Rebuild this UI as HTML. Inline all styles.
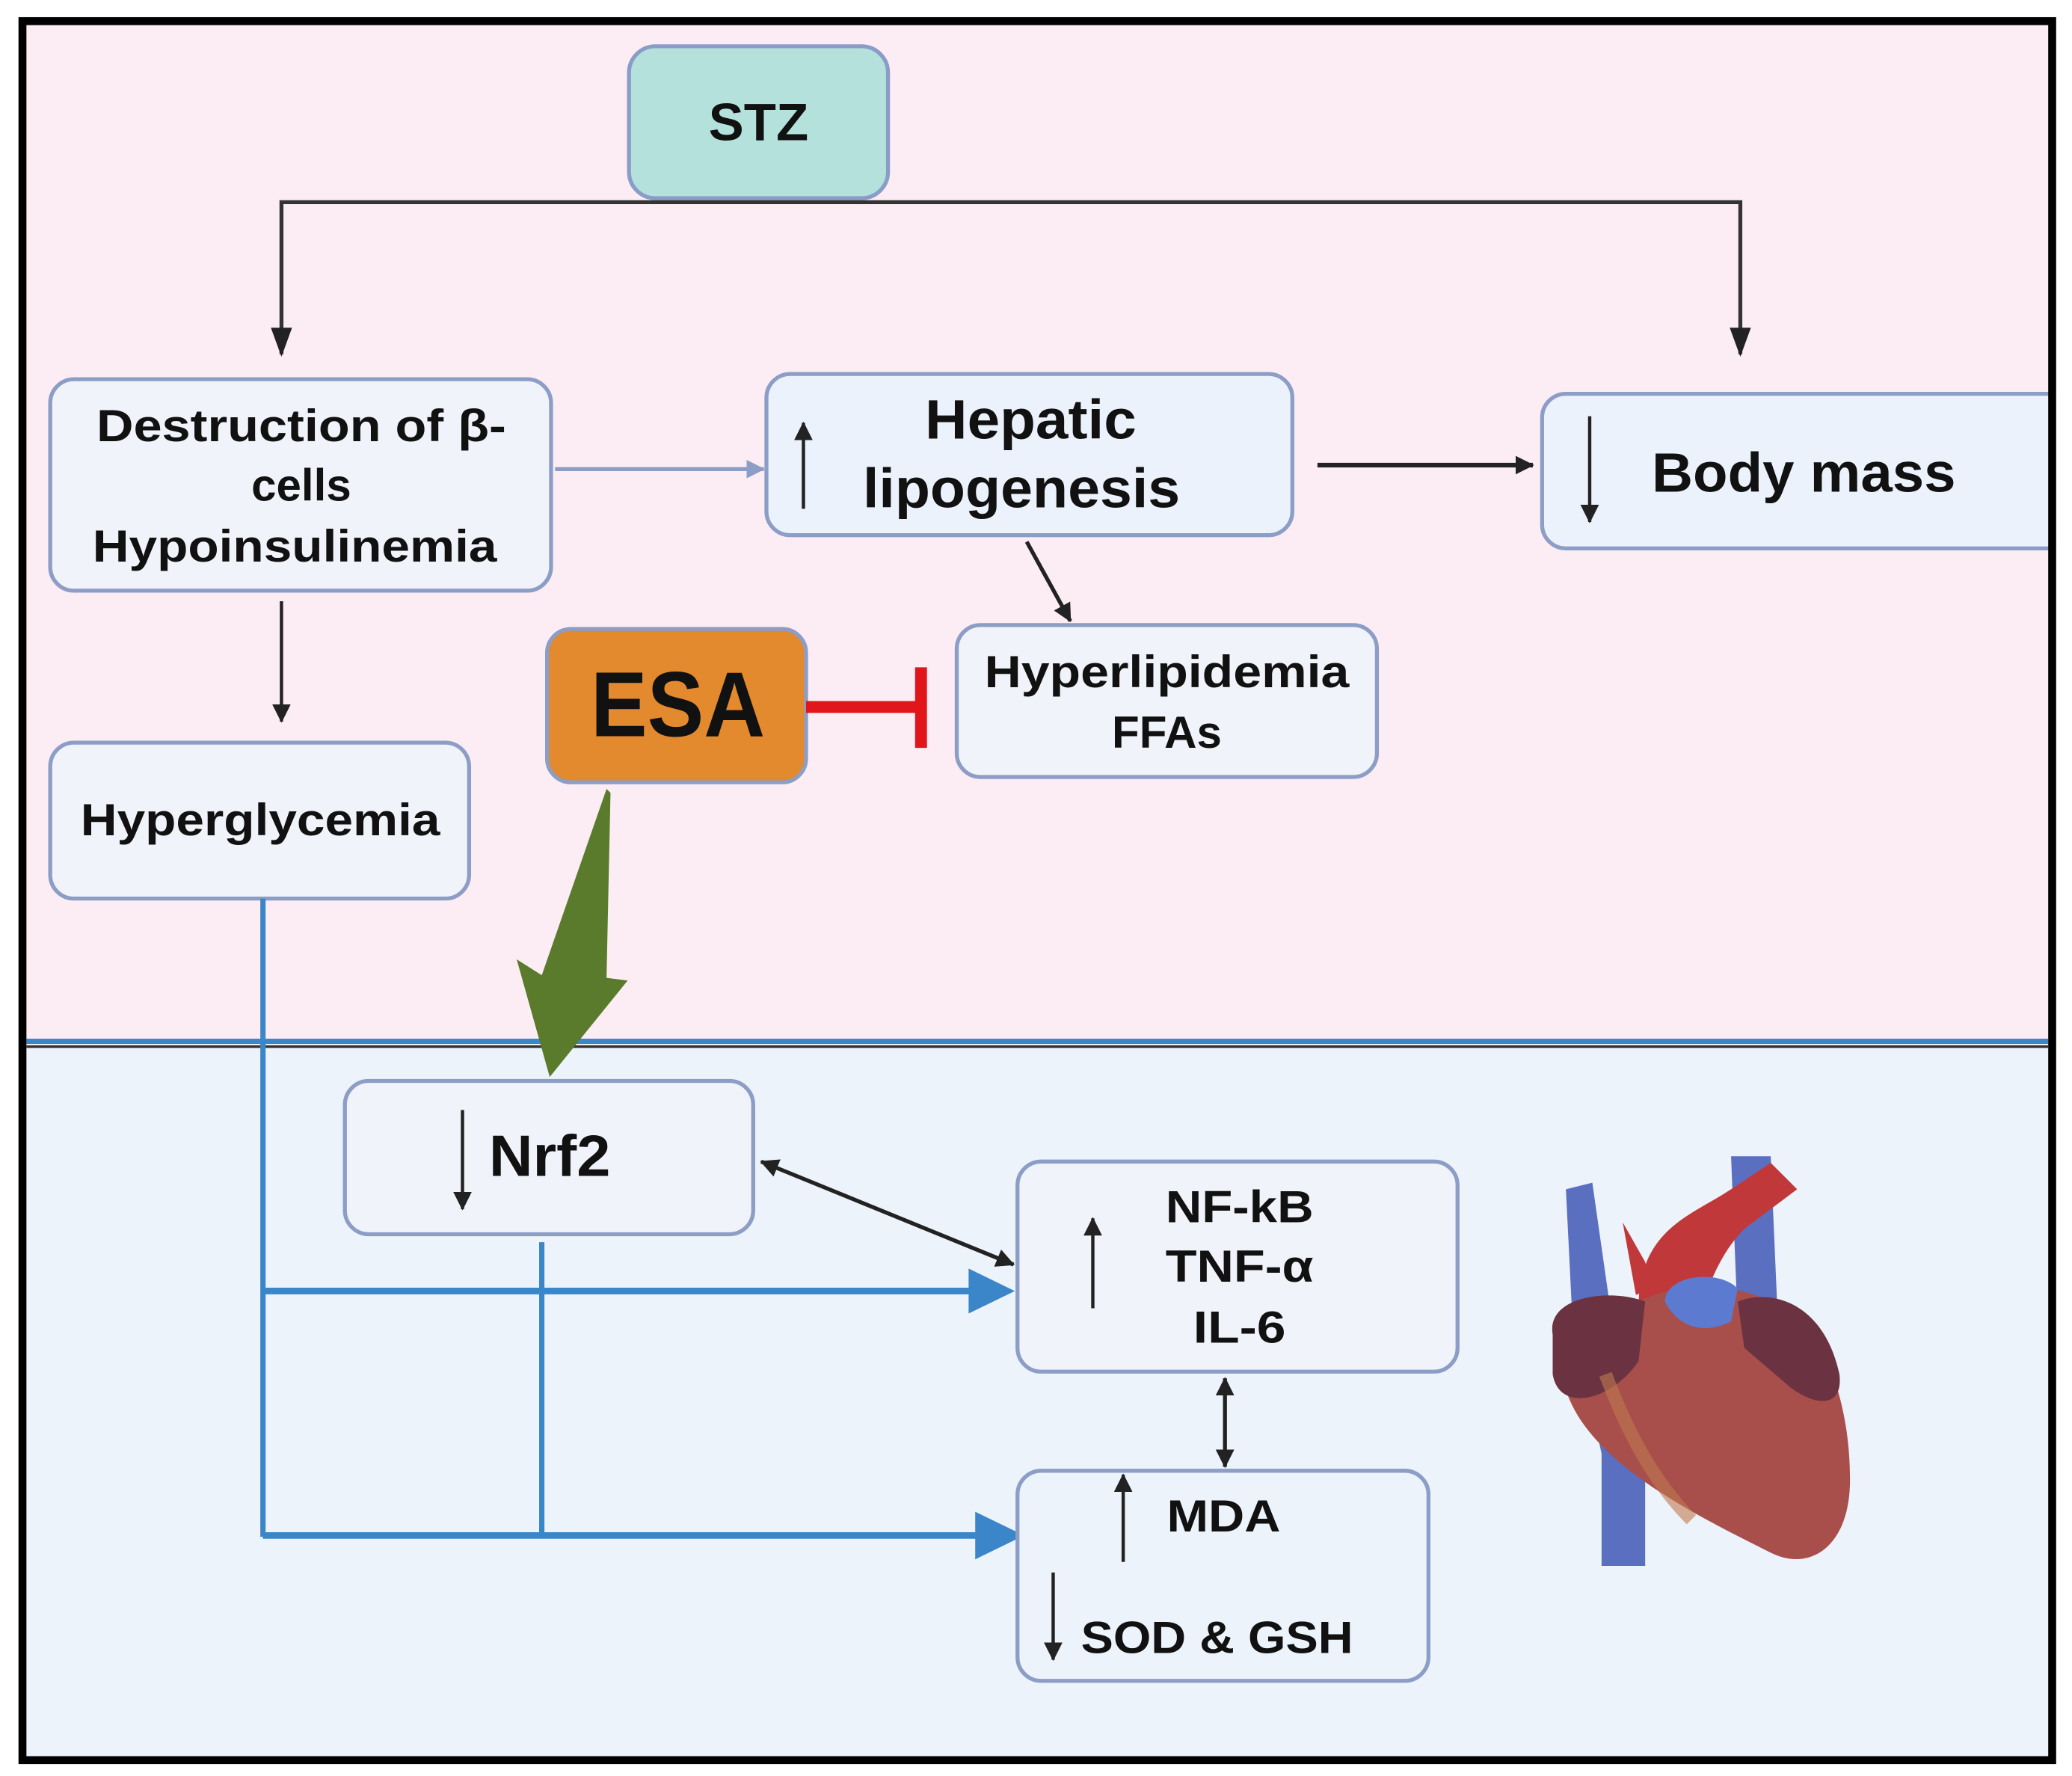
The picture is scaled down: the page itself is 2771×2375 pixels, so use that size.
<!DOCTYPE html>
<html><head><meta charset="utf-8"><style>html,body{margin:0;padding:0;background:#fff}svg{display:block}</style></head>
<body>
<svg width="2771" height="2375" viewBox="0 0 1568 1344" preserveAspectRatio="none" xmlns="http://www.w3.org/2000/svg" font-family="Liberation Sans, sans-serif" font-weight="bold">
<defs>
<marker id="abs" markerWidth="14" markerHeight="14" refX="13" refY="7" orient="auto" markerUnits="userSpaceOnUse"><path d="M0,0 L14,7 L0,14 z" fill="#222"/></marker>
<marker id="abr" markerWidth="14" markerHeight="14" refX="1" refY="7" orient="auto" markerUnits="userSpaceOnUse"><path d="M14,0 L0,7 L14,14 z" fill="#222"/></marker>
<marker id="ag" markerWidth="14" markerHeight="14" refX="13" refY="7" orient="auto" markerUnits="userSpaceOnUse"><path d="M0,0 L14,7 L0,14 z" fill="#8c9dc6"/></marker>
</defs>
<rect x="0" y="0" width="1568" height="1344" fill="#fff"/>
<rect x="20" y="19" width="1530" height="770" fill="#fcedf4"/>
<rect x="20" y="792" width="1530" height="537" fill="#edf3fb"/>
<line x1="20" y1="788" x2="1550" y2="788" stroke="#3a86c8" stroke-width="4"/>
<line x1="20" y1="792" x2="1550" y2="792" stroke="#333" stroke-width="2"/>

<!-- STZ -->
<rect x="476" y="35" width="196" height="115" rx="20" fill="#b5e1dc" stroke="#8a9cc8" stroke-width="3"/>
<text x="574" y="106" font-size="40" text-anchor="middle" fill="#111">STZ</text>
<polyline points="213,268 213,153 1317,153 1317,268" fill="none" stroke="#333" stroke-width="3"/>
<path d="M205,248 L213,270 L221,248 z" fill="#222"/>
<path d="M1309,248 L1317,270 L1325,248 z" fill="#222"/>

<!-- Destruction -->
<rect x="38" y="287" width="379" height="160" rx="18" fill="#f1f3fa" stroke="#8c9dc6" stroke-width="3"/>
<text font-size="34" text-anchor="middle" fill="#111"><tspan x="228" y="334" textLength="310" lengthAdjust="spacingAndGlyphs">Destruction of β-</tspan><tspan x="228" y="379">cells</tspan><tspan x="223" y="425" textLength="306" lengthAdjust="spacingAndGlyphs">Hypoinsulinemia</tspan></text>
<line x1="420" y1="355" x2="578" y2="355" stroke="#8c9dc6" stroke-width="3" marker-end="url(#ag)"/>

<!-- Hepatic -->
<rect x="580" y="283" width="398" height="122" rx="18" fill="#ebf2fb" stroke="#8c9dc6" stroke-width="3"/>
<text font-size="42" text-anchor="middle" fill="#111"><tspan x="780" y="332" textLength="160" lengthAdjust="spacingAndGlyphs">Hepatic</tspan><tspan x="773" y="384" textLength="240" lengthAdjust="spacingAndGlyphs">lipogenesis</tspan></text>
<line x1="608" y1="385" x2="608" y2="320" stroke="#222" stroke-width="2.5" marker-end="url(#abs)"/>
<line x1="997" y1="352" x2="1160" y2="352" stroke="#222" stroke-width="3.5" marker-end="url(#abs)"/>

<!-- Body mass -->
<rect x="1167" y="298" width="400" height="117" rx="18" fill="#ebf2fb" stroke="#8c9dc6" stroke-width="3"/>
<text x="1365" y="372" font-size="42" text-anchor="middle" fill="#111" textLength="230" lengthAdjust="spacingAndGlyphs">Body mass</text>
<line x1="1203" y1="315" x2="1203" y2="395" stroke="#222" stroke-width="2.5" marker-end="url(#abs)"/>
<rect x="1553" y="0" width="15" height="1344" fill="#fff"/>

<line x1="777" y1="410" x2="810" y2="470" stroke="#222" stroke-width="3" marker-end="url(#abs)"/>

<!-- Hyperlipidemia -->
<rect x="724" y="473" width="318" height="115" rx="18" fill="#f1f3fa" stroke="#8c9dc6" stroke-width="3"/>
<text font-size="34" text-anchor="middle" fill="#111"><tspan x="883" y="520" textLength="276" lengthAdjust="spacingAndGlyphs">Hyperlipidemia</tspan><tspan x="883" y="566">FFAs</tspan></text>

<!-- ESA -->
<rect x="414" y="476" width="196" height="116" rx="18" fill="#e3892e" stroke="#8c9dc6" stroke-width="3"/>
<text x="513" y="557" font-size="70" text-anchor="middle" fill="#111" textLength="132" lengthAdjust="spacingAndGlyphs">ESA</text>
<line x1="610" y1="535" x2="697" y2="535" stroke="#e0161b" stroke-width="9"/>
<line x1="697" y1="505" x2="697" y2="566" stroke="#e0161b" stroke-width="9"/>

<line x1="213" y1="455" x2="213" y2="546" stroke="#222" stroke-width="2.5" marker-end="url(#abs)"/>

<!-- Hyperglycemia -->
<rect x="38" y="562" width="317" height="118" rx="18" fill="#f1f3fa" stroke="#8c9dc6" stroke-width="3"/>
<text x="197" y="632" font-size="34" text-anchor="middle" fill="#111" textLength="272" lengthAdjust="spacingAndGlyphs">Hyperglycemia</text>

<!-- green arrow -->
<polygon points="459,597 462,600 459,740 475,742 416,815 391,726 410,738" fill="#5a7a2c"/>

<!-- blue connectors -->
<g stroke="#3a86c8" fill="none">
<line x1="199" y1="680" x2="199" y2="1163" stroke-width="4"/>
<line x1="199" y1="977" x2="740" y2="977" stroke-width="5"/>
<line x1="199" y1="1162" x2="745" y2="1162" stroke-width="5"/>
<line x1="410" y1="940" x2="410" y2="1162" stroke-width="4"/>
</g>
<path d="M733,960 L768,977 L733,994 z" fill="#3a86c8"/>
<path d="M738,1144 L775,1162 L738,1180 z" fill="#3a86c8"/>

<!-- Nrf2 -->
<rect x="261" y="818" width="309" height="116" rx="18" fill="#f1f3fa" stroke="#8c9dc6" stroke-width="3"/>
<text x="416" y="890" font-size="44" text-anchor="middle" fill="#111" textLength="92" lengthAdjust="spacingAndGlyphs">Nrf2</text>
<line x1="350" y1="840" x2="350" y2="915" stroke="#222" stroke-width="2.5" marker-end="url(#abs)"/>
<line x1="576" y1="879" x2="767" y2="957" stroke="#222" stroke-width="3" marker-end="url(#abs)" marker-start="url(#abr)"/>

<!-- NF-kB -->
<rect x="770" y="879" width="333" height="159" rx="18" fill="#f1f3fa" stroke="#8c9dc6" stroke-width="3"/>
<text font-size="34" text-anchor="middle" fill="#111"><tspan x="938" y="925" textLength="112" lengthAdjust="spacingAndGlyphs">NF-kB</tspan><tspan x="938" y="970" textLength="112" lengthAdjust="spacingAndGlyphs">TNF-α</tspan><tspan x="938" y="1016" textLength="70" lengthAdjust="spacingAndGlyphs">IL-6</tspan></text>
<line x1="827" y1="990" x2="827" y2="922" stroke="#222" stroke-width="2.5" marker-end="url(#abs)"/>
<line x1="927" y1="1043" x2="927" y2="1110" stroke="#222" stroke-width="3" marker-end="url(#abs)" marker-start="url(#abr)"/>

<!-- MDA -->
<rect x="770" y="1113" width="311" height="159" rx="18" fill="#edf3fb" stroke="#8c9dc6" stroke-width="3"/>
<text x="926" y="1159" font-size="34" text-anchor="middle" fill="#111" textLength="86" lengthAdjust="spacingAndGlyphs">MDA</text>
<text x="921" y="1251" font-size="34" text-anchor="middle" fill="#111" textLength="206" lengthAdjust="spacingAndGlyphs">SOD &amp; GSH</text>
<line x1="850" y1="1182" x2="850" y2="1116" stroke="#222" stroke-width="2.5" marker-end="url(#abs)"/>
<line x1="797" y1="1190" x2="797" y2="1256" stroke="#222" stroke-width="2.5" marker-end="url(#abs)"/>

<!-- heart -->
<g>
<path d="M1185,900 L1205,895 L1220,1000 L1245,1100 L1245,1185 L1212,1185 L1212,1100 L1190,1000 z" fill="#5a6fc0"/>
<path d="M1310,875 L1340,875 L1345,990 L1315,1000 z" fill="#5a6fc0"/>
<path d="M1240,990 C1240,930 1280,920 1310,900 L1340,880 L1360,900 L1320,930 C1300,950 1290,980 1285,1000 z" fill="#c0383a"/>
<path d="M1228,925 L1245,955 L1250,975 L1238,980 z" fill="#c0383a"/>
<path d="M1180,1020 C1175,990 1200,975 1240,985 C1270,970 1310,970 1340,985 C1380,1000 1400,1060 1400,1120 C1400,1170 1370,1190 1340,1175 C1290,1150 1230,1120 1200,1080 C1185,1060 1180,1040 1180,1020 z" fill="#a84f4c"/>
<path d="M1260,985 C1260,965 1300,960 1315,975 L1310,1000 C1290,1010 1270,1005 1260,985 z" fill="#5c7bd0"/>
<path d="M1175,1010 C1170,980 1220,975 1245,985 L1240,1030 C1220,1060 1180,1070 1175,1040 z" fill="#6b3341"/>
<path d="M1315,985 C1340,975 1380,985 1392,1040 C1395,1065 1375,1065 1355,1050 L1320,1020 z" fill="#6b3341"/>
<path d="M1215,1040 C1230,1080 1250,1120 1280,1150" stroke="#c07a50" stroke-width="10" fill="none" opacity="0.6"/>
</g>
<rect x="17" y="16" width="1536" height="1316" fill="none" stroke="#000" stroke-width="6"/>
</svg>
</body></html>
